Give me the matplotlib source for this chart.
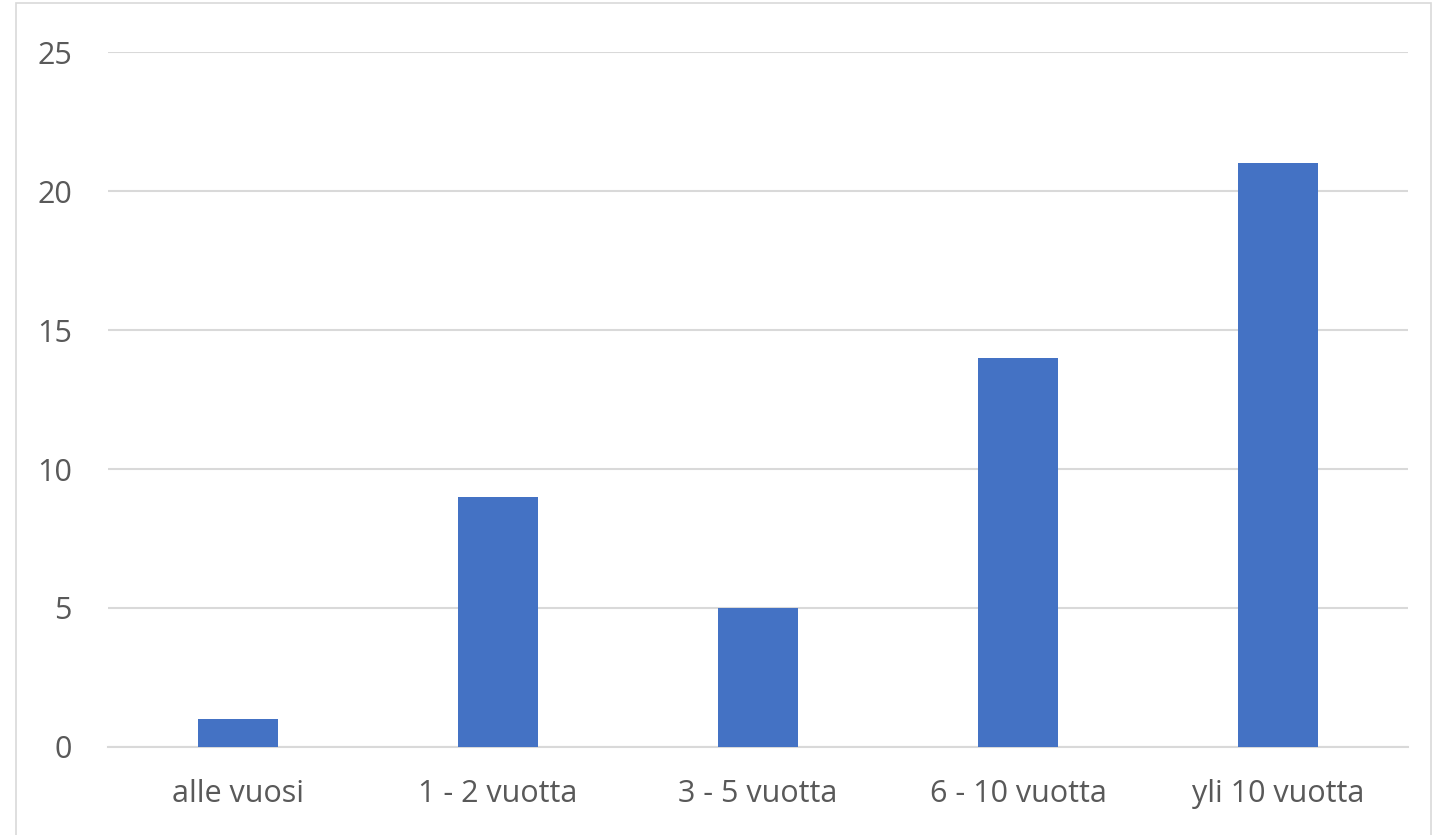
import matplotlib
matplotlib.use("Agg")
import matplotlib.pyplot as plt
from matplotlib.patches import Rectangle

categories = ["alle vuosi", "1 - 2 vuotta", "3 - 5 vuotta", "6 - 10 vuotta", "yli 10 vuotta"]
values = [1, 9, 5, 14, 21]
yticks = [0, 5, 10, 15, 20, 25]

plt.rcParams["font.family"] = ["Open Sans", "DejaVu Sans"]
TXT = "#595959"

fig = plt.figure(figsize=(14.35, 8.35), dpi=100)
ax = fig.add_axes([0.0753, 0.1054, 0.9059, 0.8323])

x = range(len(categories))
ax.bar(x, values, width=0.31, color="#4472C4", zorder=3)

ax.set_xlim(-0.5, len(categories) - 0.5)
ax.set_ylim(0, 25)
ax.set_yticks(yticks)
ax.set_xticks(list(x))
ax.set_xticklabels(categories)
ax.grid(axis="y", color="#D9D9D9", lw=1.5, zorder=0)
for s in ["top", "right", "left"]:
    ax.spines[s].set_visible(False)
ax.spines["bottom"].set_color("#D9D9D9")
ax.spines["bottom"].set_linewidth(1.5)
ax.tick_params(axis="both", length=0, labelsize=22, colors=TXT)
ax.tick_params(axis="y", pad=26)
ax.tick_params(axis="x", pad=23)

fig.patches.append(Rectangle((0.011, -0.01), 0.986, 1.006, transform=fig.transFigure,
                             fill=False, edgecolor="#D9D9D9", lw=1.2))

fig.savefig("out.png", dpi=100)
